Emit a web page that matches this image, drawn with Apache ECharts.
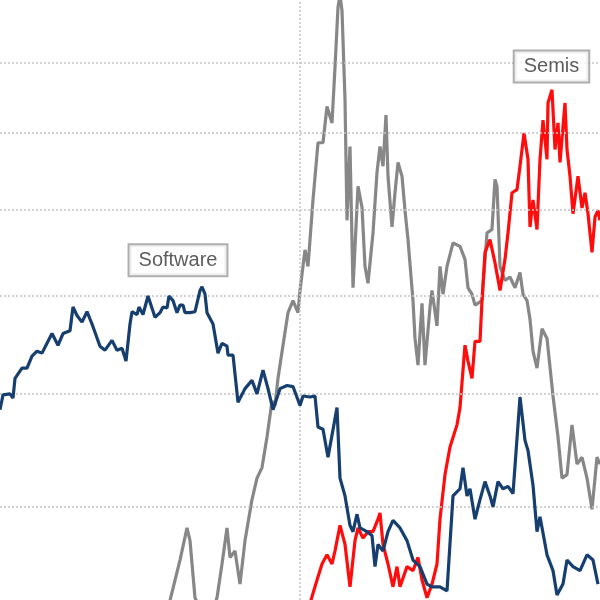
<!DOCTYPE html>
<html>
<head>
<meta charset="utf-8">
<script src="https://cdn.jsdelivr.net/npm/echarts@6/dist/echarts.min.js"></script>
<style>html,body{margin:0;padding:0;background:#fff}#c{width:600px;height:600px}</style>
</head>
<body>
<div id="c"></div>
<script>
// time index (trading-day units) and index levels
const softwareX = [0,3,10,13,15,22,27,32,37,42,47,52,58,63,70,73,77,82,87,92,100,105,112,117,122,126,130,132,137,139,143,148,155,160,163,167,169,173,177,180,183,185,190,195,200,202,205,207,213,218,222,227,228,233,238,245,252,257,263,268,273,280,287,293,300,303,310,315,318,323,328,337,340,345,350,353,357,360,367,372,375,378,383,388,393,400,407,413,420,427,432,440,447,453,460,463,467,470,475,480,485,490,493,498,503,508,513,520,525,528,533,537,540,547,553,557,563,567,573,580,587,593,598];
const softwareY = [68.5,69.9,70.0,69.6,71.5,72.5,72.5,73.7,74.2,74.0,75.0,76.0,74.8,76.0,76.3,78.8,77.9,77.2,78.3,77.0,74.7,74.3,75.3,74.3,74.5,73.2,77.0,78.3,78.0,78.8,78.0,80.0,77.7,78.2,78.8,78.7,80.0,79.5,78.2,79.0,79.0,78.2,78.2,78.3,80.6,81.0,80.2,78.2,77.0,74.0,75.0,74.7,73.8,73.8,69.2,70.5,71.3,70.0,72.3,70.5,68.5,70.5,70.8,70.7,68.9,69.8,69.7,69.8,66.9,66.7,64.2,68.7,62.4,60.9,58.5,58.0,59.4,58.3,58.0,57.7,55.3,57.0,56.5,58.0,58.9,58.3,57.3,55.8,55.3,54.0,53.8,53.8,53.5,60.9,61.5,63.3,60.9,61.5,59.0,60.6,62.1,60.9,60.0,62.1,61.5,61.7,61.1,69.7,65.7,64.8,61.8,58.0,59.2,56.2,55.0,53.2,54.0,55.8,55.3,55.0,56.2,55.8,54.0];

const otherX = [170,180,187,190,195,205,212,217,222,227,230,235,240,245,252,257,262,267,272,275,278,283,288,293,298,300,305,308,313,318,323,327,332,335,338,340,342,345,347,350,353,358,362,365,368,373,377,380,383,386,388,392,395,398,402,405,408,413,415,418,422,425,430,432,437,440,443,447,453,460,465,468,472,475,482,487,492,495,497,500,505,510,515,520,523,527,530,533,537,542,547,553,558,562,567,572,577,582,587,592,597,600];
const otherY = [52.8,55.8,58.3,57.3,53.0,51.5,51.9,53.0,55.5,58.3,56.0,56.5,54.0,57.3,60.6,62.4,63.3,66.0,69.3,68.9,71.5,74.8,78.2,79.5,78.2,80.6,85.2,83.3,91.2,98.6,98.6,103.6,101.3,109.3,118.6,120.6,118.1,104.6,88.7,98.1,80.9,92.9,90.3,83.3,81.4,87.2,94.7,98.1,95.5,102.4,94.2,87.9,92.1,96.0,94.2,89.9,86.4,79.5,75.5,72.8,79.2,72.8,78.8,80.6,76.8,83.3,80.2,83.3,86.0,85.6,84.1,80.9,80.2,79.0,79.5,87.2,87.6,93.8,92.9,83.3,81.7,82.1,80.9,82.6,80.2,79.5,77.5,74.2,72.5,76.5,75.5,69.8,66.0,62.4,62.7,67.1,63.6,64.2,62.4,59.8,64.2,63.6];

const semisX = [310,317,322,327,332,335,340,345,350,355,358,363,368,373,378,380,383,388,393,397,400,407,413,418,422,427,432,437,440,445,450,457,460,465,468,472,475,480,482,485,490,495,500,505,508,512,517,520,524,528,530,533,537,540,543,547,548,552,555,558,560,565,567,570,573,578,582,585,588,592,595,598,600];
const semisY = [52.6,54.3,55.5,56.2,55.5,56.5,58.5,57.0,53.8,57.3,58.3,57.5,58.0,58.0,59.0,59.5,57.0,55.5,53.8,55.3,53.8,55.3,55.0,56.0,54.3,53.0,54.0,55.5,59.0,62.7,65.1,67.1,68.7,74.8,73.2,71.5,75.2,75.2,79.5,84.9,86.4,83.7,80.6,84.1,87.2,92.1,92.5,95.5,99.9,96.4,87.9,91.2,87.6,96.4,101.7,96.4,104.1,106.0,97.7,101.3,96.0,104.1,97.7,94.2,89.5,94.2,90.2,92.1,89.5,84.9,89.1,89.9,88.7];

const gridLevels = [60,70,80,90,100,110,120];
const dividerX = [300];
const labels = [
  {name:'Software', x:178, y:84.0},
  {name:'Semis', x:551.5, y:109.4}
];

const pairs = (xs, ys) => xs.map((x, i) => [x, ys[i]]);

const labelStyle = {
  show: true,
  position: 'inside',
  formatter: '{b}',
  fontFamily: 'Liberation Sans, Arial, sans-serif',
  fontSize: 20,
  color: '#333',
  backgroundColor: '#fff',
  borderColor: '#9a9a9a',
  borderWidth: 2,
  padding: [5, 9, 5, 9]
};

const chart = echarts.init(document.getElementById('c'), null, {renderer: 'canvas'});
chart.setOption({
  animation: false,
  grid: {left: 0, right: 0, top: 0, bottom: 0},
  xAxis: {type: 'value', min: 0, max: 600, show: false, splitLine: {show: false}},
  yAxis: {type: 'log', min: 52.84, max: 119.8, show: false, splitLine: {show: false}},
  series: [
    {
      type: 'line', z: 1, data: [[0, 80]], showSymbol: false,
      lineStyle: {opacity: 0}, silent: true,
      markLine: {
        silent: true, symbol: 'none', label: {show: false},
        lineStyle: {type: [2, 2], color: '#c4c4c4', width: 1.5},
        data: gridLevels.map(v => ({yAxis: v})).concat(dividerX.map(v => ({xAxis: v})))
      }
    },
    {
      name: 'Other', type: 'line', z: 3, data: pairs(otherX, otherY),
      showSymbol: false, lineStyle: {color: '#878787', width: 3.2}, itemStyle: {color: '#878787'}
    },
    {
      name: 'Semis', type: 'line', z: 4, data: pairs(semisX, semisY),
      showSymbol: false, lineStyle: {color: '#ff0d0d', width: 3.2}, itemStyle: {color: '#ff0d0d'}
    },
    {
      name: 'Software', type: 'line', z: 5, data: pairs(softwareX, softwareY),
      showSymbol: false, lineStyle: {color: '#163f6f', width: 3.2}, itemStyle: {color: '#163f6f'}
    },
    {
      type: 'scatter', z: 10, symbolSize: 0, silent: true,
      itemStyle: {color: 'rgba(0,0,0,0)'},
      data: labels.map(l => ({name: l.name, value: [l.x, l.y]})),
      label: labelStyle
    }
  ]
});
</script>
</body>
</html>
